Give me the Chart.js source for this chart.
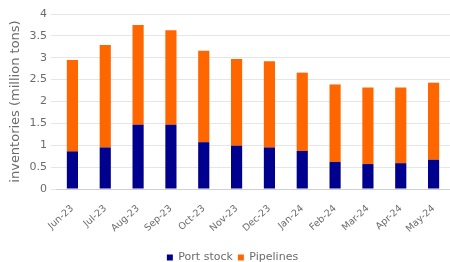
<!DOCTYPE html>
<html><head><meta charset="utf-8">
<script src="https://cdn.jsdelivr.net/npm/chart.js@4/dist/chart.umd.min.js"></script>
<style>html,body{margin:0;padding:0;background:#fff}#w{width:450px;height:262px}</style>
</head><body><div id="w"><canvas id="c"></canvas></div>
<script>
const categories = ["Jun-23","Jul-23","Aug-23","Sep-23","Oct-23","Nov-23","Dec-23","Jan-24","Feb-24","Mar-24","Apr-24","May-24"];
const portStock = [0.86,0.95,1.47,1.47,1.07,0.99,0.95,0.87,0.62,0.57,0.59,0.67];
const pipelines = [2.09,2.34,2.28,2.16,2.09,1.98,1.97,1.79,1.77,1.75,1.73,1.76];
const yTicks = [0,0.5,1,1.5,2,2.5,3,3.5,4];

const txt = '#6b6b6b';
const fam = '"DejaVu Sans", Verdana, sans-serif';
const shiftLegend = {
  id: 'shiftLegend',
  afterLayout(chart) {
    const lg = chart.legend;
    if (lg) { lg.left += 7; lg.right += 7; }
  }
};
new Chart(document.getElementById('c'), {
  type: 'bar',
  data: {
    labels: categories,
    datasets: [
      {label: 'Port stock', data: portStock, backgroundColor: '#00008f'},
      {label: 'Pipelines', data: pipelines, backgroundColor: '#FF6600'}
    ]
  },
  plugins: [shiftLegend],
  options: {
    responsive: true, maintainAspectRatio: false, animation: false,
    layout: {padding: {top: 14, right: -1, left: 0, bottom: -11}},
    datasets: {bar: {categoryPercentage: 1, barPercentage: 0.34}},
    plugins: {
      legend: {position: 'bottom', labels: {color: txt, font: {family: fam, size: 11}, boxWidth: 6, boxHeight: 6, padding: 5}},
      tooltip: {enabled: false}
    },
    scales: {
      x: {
        stacked: true,
        grid: {display: false, drawTicks: false},
        border: {color: '#cfcfcf'},
        ticks: {color: txt, font: {family: fam, size: 9.5}, maxRotation: 42, minRotation: 42, padding: 14},
        afterFit: s => { s.height = 58; s.paddingRight = 0; s.paddingLeft = 0; }
      },
      y: {
        stacked: true, min: 0, max: 4,
        afterBuildTicks: s => { s.ticks = yTicks.map(v => ({value: v})); },
        grid: {color: '#e6e6e6', drawTicks: true, tickLength: 5},
        border: {display: false},
        ticks: {color: txt, font: {family: fam, size: 11}, padding: 4, callback: v => String(v)},
        title: {display: true, text: 'inventories (million tons)', color: txt, font: {family: fam, size: 13}, padding: {top: 8, bottom: 0}},
        afterFit: s => { s.width = 56; }
      }
    }
  }
});
</script></body></html>
